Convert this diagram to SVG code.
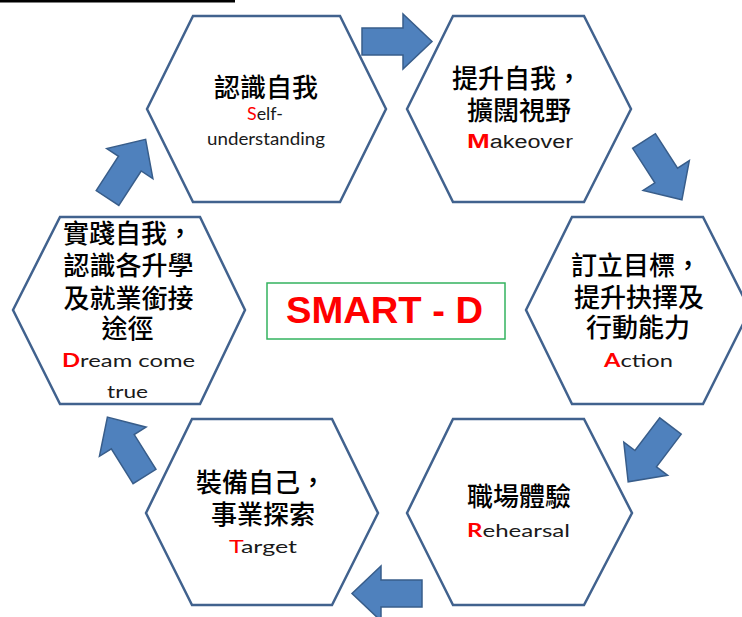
<svg xmlns="http://www.w3.org/2000/svg" xmlns:xlink="http://www.w3.org/1999/xlink" width="742" height="617" viewBox="0 0 742 617">
<style>
.hex{fill:#ffffff;stroke:#41628E;stroke-width:2.5;stroke-linejoin:miter}
.cjk{font-family:"Noto Sans CJK TC","Noto Sans CJK SC",sans-serif;font-size:26px;font-weight:500;fill:#000;text-anchor:middle}
.lat{font-family:Lato,"Open Sans",sans-serif;font-size:18px;fill:#1a1a1a;text-anchor:middle}
.ari{font-family:"Liberation Sans",Arial,sans-serif;font-size:18px;fill:#1a1a1a;text-anchor:middle}
.r{fill:#ff0000}
.b{font-weight:bold}
.arrow{fill:#4F81BD;stroke:#385D8A;stroke-width:1.5;stroke-linejoin:miter}
</style>
<defs>
<path id="arr" d="M0,-13.5 H41 V-27.5 L70,0 L41,27.5 V13.5 H0 Z"/>
</defs>
<rect x="0" y="0" width="235" height="2.5" fill="#000"/>

<g id="connectors">
<use xlink:href="#arr" class="arrow" transform="translate(362,41.5)"/>
<use xlink:href="#arr" class="arrow" transform="translate(644,141) rotate(57.2)"/>
<use xlink:href="#arr" class="arrow" transform="translate(670.5,426) rotate(127.2)"/>
<use xlink:href="#arr" class="arrow" transform="translate(422,593.5) rotate(180)"/>
<use xlink:href="#arr" class="arrow" transform="translate(144.5,476.5) rotate(238)"/>
<use xlink:href="#arr" class="arrow" transform="translate(107.5,198) rotate(-57)"/>
</g>

<g id="node-self">
<polygon class="hex" points="147,109 193,16 340,16 386,109 340,202 193,202"/>
<text class="cjk" x="266" y="97">認識自我</text>
<text class="lat" x="265" y="120" font-size="16" textLength="36" lengthAdjust="spacingAndGlyphs"><tspan class="r">S</tspan>elf-</text>
<text class="lat" x="266" y="145" font-size="16" textLength="118" lengthAdjust="spacingAndGlyphs">understanding</text>
</g>

<g id="node-makeover">
<polygon class="hex" points="407,109 453,16 584,16 631,109 584,202 453,202"/>
<text class="cjk" x="517" y="88">提升自我，</text>
<text class="cjk" x="519" y="120">擴闊視野</text>
<text class="ari" x="520" y="148" textLength="106" lengthAdjust="spacingAndGlyphs"><tspan class="r b" font-size="21">M</tspan>akeover</text>
</g>

<g id="node-action">
<polygon class="hex" points="526,310 572,217 703,217 750,310 703,404 572,404"/>
<text class="cjk" x="636" y="275">訂立目標，</text>
<text class="cjk" x="639" y="307">提升抉擇及</text>
<text class="cjk" x="638" y="337">行動能力</text>
<text class="lat" x="638.5" y="367" textLength="69" lengthAdjust="spacingAndGlyphs"><tspan class="r b">A</tspan>ction</text>
</g>

<g id="node-rehearsal">
<polygon class="hex" points="407,513 453,419 584,419 632,513 584,605 453,605"/>
<text class="cjk" x="519" y="506">職場體驗</text>
<text class="lat" x="518.5" y="537" textLength="103" lengthAdjust="spacingAndGlyphs"><tspan class="r b">R</tspan>ehearsal</text>
</g>

<g id="node-target">
<polygon class="hex" points="146,513 192,419 332,419 378,513 332,605 192,605"/>
<text class="cjk" x="261" y="492">裝備自己，</text>
<text class="cjk" x="263" y="524">事業探索</text>
<text class="lat" x="263" y="553" textLength="68" lengthAdjust="spacingAndGlyphs"><tspan class="r">T</tspan>arget</text>
</g>

<g id="node-dream">
<polygon class="hex" points="13,310 60,217 200,217 245,310 200,404 60,404"/>
<text class="cjk" x="128" y="243">實踐自我，</text>
<text class="cjk" x="128.5" y="275">認識各升學</text>
<text class="cjk" x="128.5" y="308">及就業銜接</text>
<text class="cjk" x="127.5" y="338">途徑</text>
<text class="lat" x="128.5" y="367" textLength="133" lengthAdjust="spacingAndGlyphs"><tspan class="r b">D</tspan>ream come</text>
<text class="lat" x="127.5" y="398" textLength="41" lengthAdjust="spacingAndGlyphs">true</text>
</g>

<g id="node-smartd">
<rect x="267" y="283" width="238" height="56" fill="#fff" stroke="#33B35F" stroke-width="1.5"/>
<text x="384.5" y="323" font-family="Liberation Sans, Arial, sans-serif" font-size="36" font-weight="bold" fill="#ff0000" text-anchor="middle" textLength="197" lengthAdjust="spacingAndGlyphs">SMART - D</text>
</g>
</svg>
